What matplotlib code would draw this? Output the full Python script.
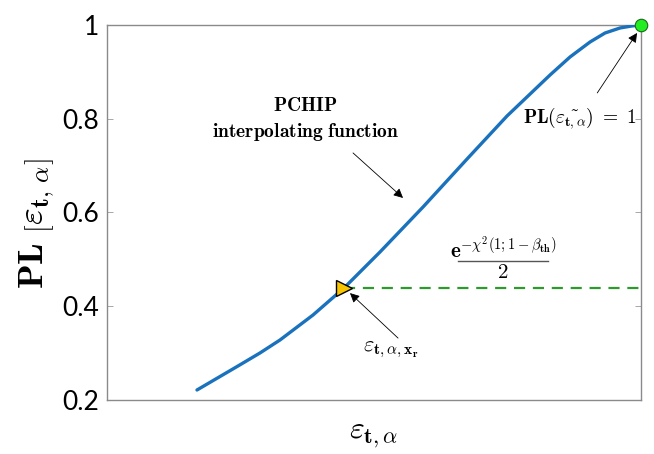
import numpy as np
import matplotlib
matplotlib.use("Agg")
import matplotlib.pyplot as plt

plt.rcParams['mathtext.fontset'] = 'cm'

# curve values (x normalised 0..1)
eps = [0.1685, 0.2453, 0.2865, 0.3240, 0.3858, 0.4438, 0.5112, 0.5918,
       0.6760, 0.7491, 0.8296, 0.8670, 0.9045, 0.9326, 0.9607, 0.9831, 1.0]
pl = [0.2213, 0.2725, 0.3003, 0.3280, 0.3813, 0.4389, 0.5157, 0.6117,
      0.7163, 0.8059, 0.8933, 0.9317, 0.9637, 0.9829, 0.9936, 0.9979, 1.0]

eps_r = 0.4438
pl_r = 0.4389
yticks = [0.2, 0.4, 0.6, 0.8, 1.0]
yticklabels = ['0.2', '0.4', '0.6', '0.8', '1']

fig = plt.figure(figsize=(6.54, 4.54), dpi=100)
ax = fig.add_axes([0.1636, 0.119, 0.8166, 0.826])

ax.plot(eps, pl, color='#1a72bd', lw=2.4, solid_capstyle='round',
        solid_joinstyle='round', zorder=3)
ax.plot([eps_r, 1.0], [pl_r, pl_r], color='#2e9a2e', lw=1.6,
        dashes=(5, 3.5), zorder=2)
ax.plot(eps_r, pl_r, marker='>', ms=11, mfc='#f7c600', mec='black',
        mew=1.0, zorder=5, clip_on=False)
ax.plot(1.0, 1.0, marker='o', ms=9, mfc='#22ee22', mec='#1a6a1a',
        mew=0.8, zorder=5, clip_on=False)

ax.set_xlim(0, 1)
ax.set_ylim(0.2, 1.0)
ax.set_xticks([])
ax.set_yticks(yticks)
ax.set_yticklabels(yticklabels, fontfamily='Lato', fontsize=19)
ax.tick_params(axis='y', direction='in', length=4, width=0.6,
               color='#999999', right=True, pad=6)
for s in ax.spines.values():
    s.set_color('#8a8a8a')
    s.set_linewidth(1.0)

ax.set_ylabel(r'$\mathbf{PL}\ \left[\varepsilon_{\mathbf{t},\,\alpha}\right]$',
              fontsize=26)
ax.yaxis.set_label_coords(-0.095, 0.47)
ax.set_xlabel(r'$\varepsilon_{\mathbf{t},\alpha}$', fontsize=23, labelpad=14)

aprops = dict(arrowstyle='-|>', color='black', lw=0.6,
              mutation_scale=14, shrinkA=0, shrinkB=0)

ax.text(0.372, 0.829, r'$\mathbf{PCHIP}$', ha='center', va='center', fontsize=14)
ax.text(0.372, 0.772, r'$\mathbf{interpolating\ function}$', ha='center',
        va='center', fontsize=14)
ax.annotate('', xy=(0.5543, 0.631), xytext=(0.4607, 0.727), arrowprops=aprops)

ax.text(0.993, 0.8016,
        r'$\mathbf{PL}(\tilde{\varepsilon_{\mathbf{t},\alpha}})\ =\ \mathbf{1}$',
        ha='right', va='center', fontsize=14)
ax.annotate('', xy=(0.9925, 0.983), xytext=(0.918, 0.855), arrowprops=aprops)

# fraction drawn as numerator / bar / denominator
ax.text(0.7416, 0.524,
        r'$\mathbf{e}^{-\chi^\mathbf{2}(\mathbf{1};\mathbf{1}-\beta_{\mathbf{th}})}$',
        ha='center', va='center', fontsize=15)
ax.plot([0.657, 0.826], [0.4965, 0.4965], color='#555555', lw=1.0)
ax.text(0.7416, 0.472, r'$\mathbf{2}$', ha='center', va='center', fontsize=15)

ax.text(0.532, 0.307, r'$\varepsilon_{\mathbf{t},\alpha,\mathbf{x_r}}$',
        ha='center', va='center', fontsize=16)
ax.annotate('', xy=(0.455, 0.428), xytext=(0.545, 0.332), arrowprops=aprops)

fig.savefig('out.png', dpi=100)
